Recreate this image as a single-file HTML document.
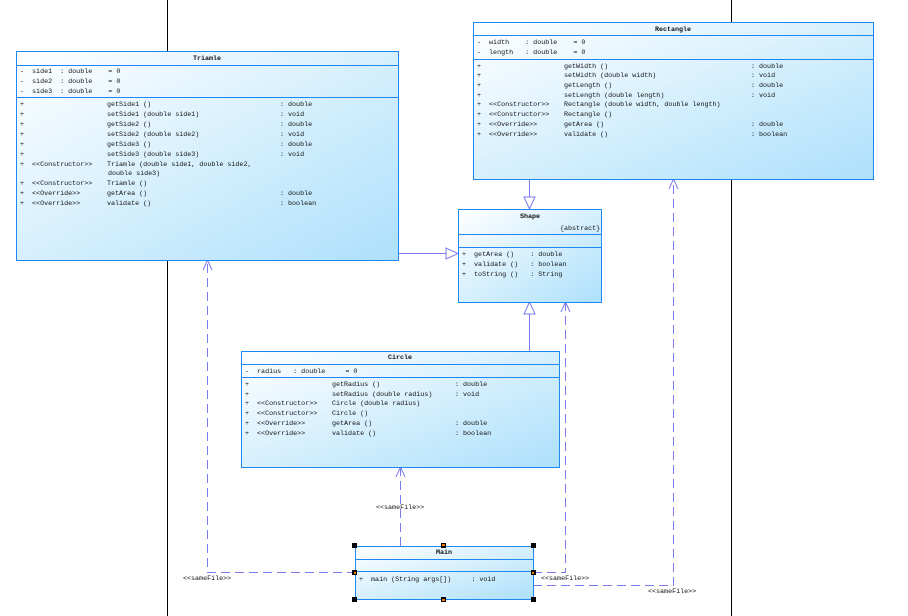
<!DOCTYPE html>
<html><head><meta charset="utf-8"><style>
html,body{margin:0;padding:0;background:#fff;}
svg{display:block;}
text{font-family:"Liberation Mono","DejaVu Sans Mono",monospace;font-size:6.7px;fill:#111;white-space:pre;}
.t{text-anchor:middle;font-weight:bold;}
</style></head><body>
<svg width="908" height="616" viewBox="0 0 908 616" xmlns="http://www.w3.org/2000/svg" xml:space="preserve">
<defs>
<linearGradient id="g" x1="0" y1="0" x2="1" y2="1">
<stop offset="0" stop-color="#ffffff"/><stop offset="1" stop-color="#ade0fb"/>
</linearGradient>
</defs>
<line x1="167.5" y1="0" x2="167.5" y2="616" stroke="#000"/>
<line x1="731.5" y1="0" x2="731.5" y2="616" stroke="#000"/>

<g stroke="#7b7bf0" fill="none">
<line x1="529.5" y1="179" x2="529.5" y2="197"/>
<polygon points="524,197 535,197 529.5,209" fill="#fff"/>
<line x1="398" y1="253.5" x2="446" y2="253.5"/>
<polygon points="446,248 446,259 458,253.5" fill="#fff"/>
<line x1="529.5" y1="351" x2="529.5" y2="314"/>
<polygon points="524,314 535,314 529.5,302" fill="#fff"/>
<g stroke-dasharray="9,5">
<line x1="400.5" y1="546" x2="400.5" y2="468"/>
<polyline points="356,572.5 207.5,572.5 207.5,261"/>
<polyline points="533,572.5 565.5,572.5 565.5,303"/>
<polyline points="533,585.5 673.5,585.5 673.5,180"/>
</g>
<polyline points="396,477 400.5,467 405,477"/>
<polyline points="203,270 207.5,260 212,270"/>
<polyline points="561,312 565.5,302 570,312"/>
<polyline points="669,189 673.5,179 678,189"/>
</g>
<text x="376" y="509">&lt;&lt;sameFile&gt;&gt;</text>
<text x="183" y="580">&lt;&lt;sameFile&gt;&gt;</text>
<text x="541" y="580">&lt;&lt;sameFile&gt;&gt;</text>
<text x="648" y="593">&lt;&lt;sameFile&gt;&gt;</text>

<g stroke="#1f87f0" fill="url(#g)"><rect x="16.5" y="51.5" width="382" height="209"/></g>
<g stroke="#1f87f0"><line x1="16" y1="65.5" x2="398" y2="65.5"/><line x1="16" y1="97.5" x2="398" y2="97.5"/></g>
<text class="t" x="207" y="60">Triamle</text>
<text x="20" y="73">-  side1  : double    = 0</text>
<text x="20" y="83">-  side2  : double    = 0</text>
<text x="20" y="93">-  side3  : double    = 0</text>
<text x="20" y="106">+</text><text x="107" y="106">getSide1 ()</text><text x="280" y="106">: double</text>
<text x="20" y="116">+</text><text x="107" y="116">setSide1 (double side1)</text><text x="280" y="116">: void</text>
<text x="20" y="126">+</text><text x="107" y="126">getSide2 ()</text><text x="280" y="126">: double</text>
<text x="20" y="136">+</text><text x="107" y="136">setSide2 (double side2)</text><text x="280" y="136">: void</text>
<text x="20" y="146">+</text><text x="107" y="146">getSide3 ()</text><text x="280" y="146">: double</text>
<text x="20" y="156">+</text><text x="107" y="156">setSide3 (double side3)</text><text x="280" y="156">: void</text>
<text x="20" y="166">+  &lt;&lt;Constructor&gt;&gt;</text><text x="107" y="166">Triamle (double side1, double side2,</text>
<text x="108" y="175">double side3)</text>
<text x="20" y="185">+  &lt;&lt;Constructor&gt;&gt;</text><text x="107" y="185">Triamle ()</text>
<text x="20" y="195">+  &lt;&lt;Override&gt;&gt;</text><text x="107" y="195">getArea ()</text><text x="280" y="195">: double</text>
<text x="20" y="205">+  &lt;&lt;Override&gt;&gt;</text><text x="107" y="205">validate ()</text><text x="280" y="205">: boolean</text>

<g stroke="#1f87f0" fill="url(#g)"><rect x="473.5" y="22.5" width="400" height="157"/></g>
<g stroke="#1f87f0"><line x1="473" y1="35.5" x2="873" y2="35.5"/><line x1="473" y1="59.5" x2="873" y2="59.5"/></g>
<text class="t" x="673" y="31">Rectangle</text>
<text x="477" y="44">-  width    : double    = 0</text>
<text x="477" y="54">-  length   : double    = 0</text>
<text x="477" y="68">+</text><text x="564" y="68">getWidth ()</text><text x="751" y="68">: double</text>
<text x="477" y="77">+</text><text x="564" y="77">setWidth (double width)</text><text x="751" y="77">: void</text>
<text x="477" y="87">+</text><text x="564" y="87">getLength ()</text><text x="751" y="87">: double</text>
<text x="477" y="97">+</text><text x="564" y="97">setLength (double length)</text><text x="751" y="97">: void</text>
<text x="477" y="106">+  &lt;&lt;Constructor&gt;&gt;</text><text x="564" y="106">Rectangle (double width, double length)</text>
<text x="477" y="116">+  &lt;&lt;Constructor&gt;&gt;</text><text x="564" y="116">Rectangle ()</text>
<text x="477" y="126">+  &lt;&lt;Override&gt;&gt;</text><text x="564" y="126">getArea ()</text><text x="751" y="126">: double</text>
<text x="477" y="136">+  &lt;&lt;Override&gt;&gt;</text><text x="564" y="136">validate ()</text><text x="751" y="136">: boolean</text>

<g stroke="#1f87f0" fill="url(#g)"><rect x="458.5" y="209.5" width="143" height="93"/></g>
<g stroke="#1f87f0"><line x1="458" y1="234.5" x2="601" y2="234.5"/><line x1="458" y1="247.5" x2="601" y2="247.5"/></g>
<text class="t" x="530" y="218">Shape</text>
<text x="560" y="230">{abstract}</text>
<text x="462" y="256">+  getArea ()    : double</text>
<text x="462" y="266">+  validate ()   : boolean</text>
<text x="462" y="276">+  toString ()   : String</text>

<g stroke="#1f87f0" fill="url(#g)"><rect x="241.5" y="351.5" width="318" height="116"/></g>
<g stroke="#1f87f0"><line x1="241" y1="364.5" x2="559" y2="364.5"/><line x1="241" y1="377.5" x2="559" y2="377.5"/></g>
<text class="t" x="400" y="359">Circle</text>
<text x="245" y="373">-  radius   : double     = 0</text>
<text x="245" y="386">+</text><text x="332" y="386">getRadius ()</text><text x="455" y="386">: double</text>
<text x="245" y="396">+</text><text x="332" y="396">setRadius (double radius)</text><text x="455" y="396">: void</text>
<text x="245" y="405">+  &lt;&lt;Constructor&gt;&gt;</text><text x="332" y="405">Circle (double radius)</text>
<text x="245" y="415">+  &lt;&lt;Constructor&gt;&gt;</text><text x="332" y="415">Circle ()</text>
<text x="245" y="425">+  &lt;&lt;Override&gt;&gt;</text><text x="332" y="425">getArea ()</text><text x="455" y="425">: double</text>
<text x="245" y="435">+  &lt;&lt;Override&gt;&gt;</text><text x="332" y="435">validate ()</text><text x="455" y="435">: boolean</text>

<g stroke="#1f87f0" fill="url(#g)"><rect x="355.5" y="546.5" width="178" height="53"/></g>
<g stroke="#1f87f0"><line x1="355" y1="559.5" x2="533" y2="559.5"/><line x1="355" y1="571.5" x2="533" y2="571.5"/></g>
<text class="t" x="444" y="554">Main</text>
<text x="359" y="581">+  main (String args[])     : void</text>
<g fill="#000">
<rect x="352" y="543" width="5" height="5"/><rect x="531" y="543" width="5" height="5"/>
<rect x="352" y="597" width="5" height="5"/><rect x="531" y="597" width="5" height="5"/>
<rect x="441" y="543" width="5" height="5"/><rect x="441" y="597" width="5" height="5"/>
<rect x="352" y="570" width="5" height="5"/><rect x="531" y="570" width="5" height="5"/>
</g>
<g fill="#f07800">
<rect x="442" y="544" width="3" height="2"/><rect x="442" y="599" width="3" height="2"/>
<rect x="354" y="572" width="2" height="2"/><rect x="532" y="572" width="2" height="2"/>
</g>
</svg>
</body></html>
